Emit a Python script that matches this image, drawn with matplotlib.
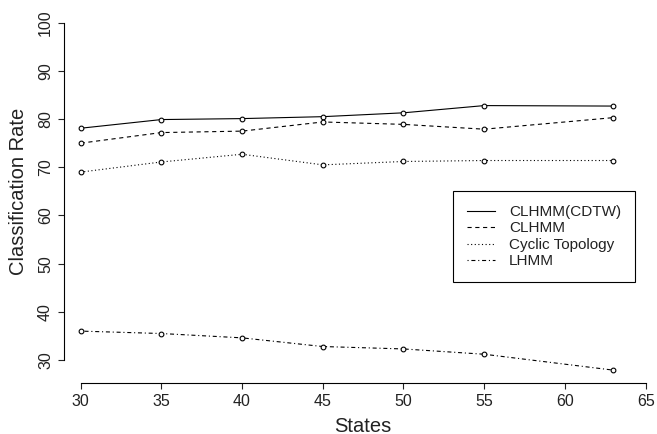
import matplotlib

matplotlib.use("Agg")
import matplotlib.pyplot as plt

# ── Data ──────────────────────────────────────────────────────────────────────
states = [30, 35, 40, 45, 50, 55, 63]
clhmm_cdtw = [78.1, 79.9, 80.1, 80.5, 81.3, 82.8, 82.7]
clhmm = [75.0, 77.2, 77.5, 79.4, 78.9, 77.9, 80.3]
cyclic = [69.0, 71.1, 72.7, 70.5, 71.2, 71.4, 71.4]
lhmm = [36.0, 35.5, 34.6, 32.8, 32.3, 31.2, 27.9]

series_names = ["CLHMM(CDTW)", "CLHMM", "Cyclic Topology", "LHMM"]
x_ticks = [30, 35, 40, 45, 50, 55, 60, 65]
y_ticks = [30, 40, 50, 60, 70, 80, 90, 100]

# ── Style ─────────────────────────────────────────────────────────────────────
FONT = "Liberation Sans"
plt.rcParams["font.family"] = [FONT, "DejaVu Sans"]
plt.rcParams["lines.scale_dashes"] = False

INK = "black"
styles = [
    "-",
    (0, (3.0, 2.6)),  # R lty 2
    (0, (0.8, 1.8)),  # R lty 3
    (0, (0.8, 2.0, 2.9, 2.0)),  # R lty 4
]

W, H = 657, 434
fig = plt.figure(figsize=(W / 100, H / 100), dpi=100, facecolor="white")

# axes rectangle placed in pixel terms (left spine at x=64, bottom spine at y=383)
left, right, top, bottom = 64, 650, 20, 383.3
ax = fig.add_axes([left / W, 1 - bottom / H, (right - left) / W, (bottom - top) / H])
ax.set_xlim(28.97, 65.27)
ax.set_ylim(25.17, 100.56)

# ── Series ────────────────────────────────────────────────────────────────────
for ys, name, ls in zip([clhmm_cdtw, clhmm, cyclic, lhmm], series_names, styles):
    ax.plot(states, ys, linestyle=ls, color=INK, lw=0.8, label=name)
    ax.plot(
        states,
        ys,
        linestyle="none",
        marker="o",
        ms=3.4,
        mew=0.8,
        mfc="white",
        mec=INK,
    )

# ── Axes ──────────────────────────────────────────────────────────────────────
for s in ["top", "right"]:
    ax.spines[s].set_visible(False)
ax.spines["left"].set_bounds(30, 100)
ax.spines["bottom"].set_bounds(30, 65)
for s in ["left", "bottom"]:
    ax.spines[s].set_linewidth(0.8)

ax.set_xticks(x_ticks, [str(t) for t in x_ticks])
ax.set_yticks(y_ticks, [str(t) for t in y_ticks], rotation=90, va="center")
ax.tick_params(axis="both", length=4.3, width=0.8, labelsize=11.5, colors="#222222")
ax.tick_params(axis="x", pad=3.5)
ax.tick_params(axis="y", pad=3.6)

ax.set_xlabel("States", fontsize=14.5, color="#222222", va="center")
ax.set_ylabel("Classification Rate", fontsize=14.5, color="#222222", va="center")
ax.xaxis.set_label_coords((80.7 + 645.6) / 2 / W, 1 - 426 / H, transform=fig.transFigure)
ax.yaxis.set_label_coords(19 / W, 1 - 191.5 / H, transform=fig.transFigure)

# ── Legend ────────────────────────────────────────────────────────────────────
leg = ax.legend(
    loc="upper left",
    bbox_to_anchor=(452.7 / W, 1 - 191 / H),
    bbox_transform=fig.transFigure,
    borderaxespad=0,
    fancybox=False,
    framealpha=1,
    edgecolor=INK,
    fontsize=11,
    handlelength=1.85,
    handletextpad=0.9,
    borderpad=0.92,
    labelspacing=0.16,
)
leg.get_frame().set_linewidth(0.8)
for t in leg.get_texts():
    t.set_color("#222222")

fig.savefig("out.png", dpi=100, facecolor="white")
